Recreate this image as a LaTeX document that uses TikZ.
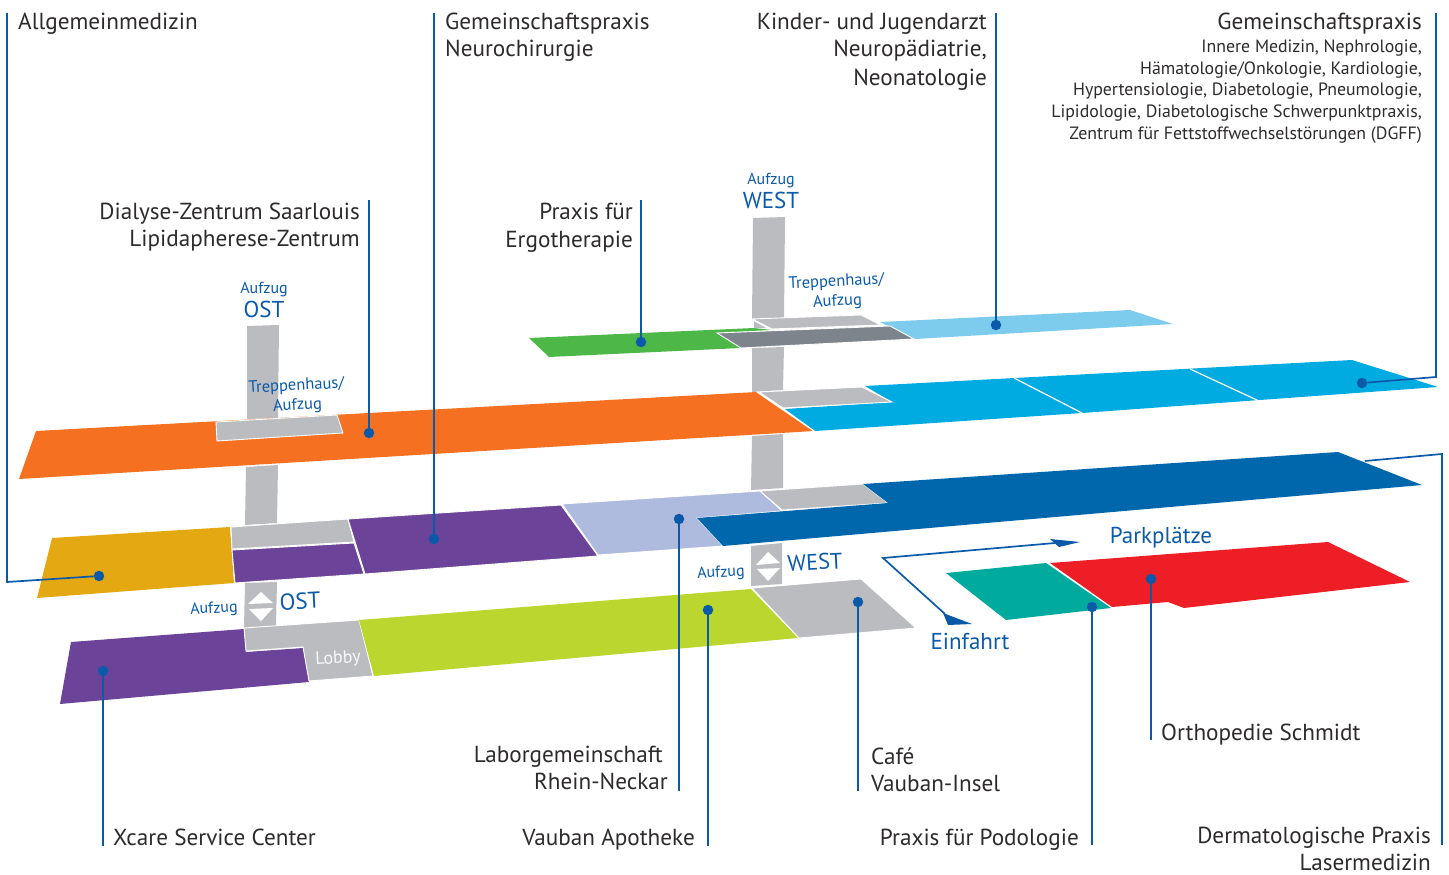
\documentclass[tikz,border=0pt]{standalone}
\usepackage{fontspec}
\setmainfont{PT Sans}
\usepackage{xcolor}
\definecolor{leader}{RGB}{11,90,170}
\definecolor{labeltext}{RGB}{45,42,43}
\definecolor{shaft}{RGB}{187,188,191}
\definecolor{orangefloor}{RGB}{245,112,33}
\definecolor{cyanfloor}{RGB}{0,171,226}
\definecolor{skyfloor}{RGB}{125,204,238}
\definecolor{greenfloor}{RGB}{77,184,72}
\definecolor{slatefloor}{RGB}{125,132,139}
\definecolor{yellowfloor}{RGB}{227,168,18}
\definecolor{purplefloor}{RGB}{107,67,153}
\definecolor{paleblue}{RGB}{174,186,222}
\definecolor{navyfloor}{RGB}{0,103,172}
\definecolor{limefloor}{RGB}{187,214,47}
\definecolor{tealfloor}{RGB}{0,171,157}
\definecolor{redfloor}{RGB}{238,30,38}
\tikzset{%
    room/.style={fill=#1,draw=white,line width=0.9pt,line join=miter},
    big/.style={font=\fontsize{23.2}{27}\selectfont,text=labeltext,align=#1,inner sep=0pt},
    small/.style={font=\fontsize{17.8}{21.8}\selectfont,text=labeltext,align=right,inner sep=0pt},
    blue/.style={font=\fontsize{#1}{#1}\selectfont,text=leader,align=center,inner sep=0pt},
    pin/.style={circle,fill=leader,inner sep=0pt,minimum size=10.5pt},
    lead/.style={draw=leader,line width=1.7pt}
}
\begin{document}
\begin{tikzpicture}[x=1pt,y=-1pt]
\useasboundingbox (0,0) rectangle (1449,875);
% lifts
\fill[shaft] (247,326) -- (279,325) -- (278,418) -- (247,419) -- cycle;
\fill[shaft] (246,467) -- (278,465) -- (277,523) -- (245,525) -- cycle;
\fill[shaft] (245,583) -- (277,582) -- (276,626) -- (244,628) -- cycle;
\fill[shaft] (753,218) -- (785,217) -- (784,319) -- (752,320) -- cycle;
\fill[shaft] (752,348) -- (784,347) -- (783,390) -- (752,392) -- cycle;
\fill[shaft] (752,436) -- (783,434) -- (783,488) -- (751,490) -- cycle;
\fill[shaft] (751,546) -- (782,543) -- (782,584) -- (751,586) -- cycle;
\fill[white] (261,592) -- (273,603) -- (248,604) -- cycle;
\fill[white] (249,609) -- (273,608) -- (261,621) -- cycle;
\fill[white] (768,552) -- (780,563) -- (756,565) -- cycle;
\fill[white] (757,569) -- (780,568) -- (768,581) -- cycle;
% top floor
\fill[greenfloor] (529,338) -- (549,357) -- (741,348) -- (717,333) -- (772,330) -- (754,328) -- cycle;
\fill[shaft] (754,321) -- (766,328) -- (754,328) -- cycle;
\fill[skyfloor] (880,322) -- (915,339) -- (1173,324) -- (1130,310) -- cycle;
\draw[room=shaft] (752,319) -- (772,329) -- (881,325) -- (861,315) -- cycle;
\draw[room=slatefloor] (717,333) -- (741,348) -- (914,339) -- (890,326) -- cycle;
% second floor
\fill[cyanfloor] (785,409) -- (815,431) -- (1082,413) -- (1438,387) -- (1352,360) -- (865,386) -- (892,402) -- cycle;
\draw[white,line width=1.2pt] (1014,378) -- (1082,413) (1190,369) -- (1259,401);
\draw[room=shaft] (759,392) -- (783,408) -- (892,402) -- (862,387) -- cycle;
\fill[orangefloor] (36,431) -- (19,479) -- (814,431) -- (757,392) -- cycle;
\draw[white,line width=1.2pt] (757,392) -- (814,431);
\draw[room=shaft] (216,422) -- (217,441) -- (343,433) -- (337,415) -- cycle;
% first floor
\fill[yellowfloor] (52,538) -- (37,598) -- (234,583) -- (230,527) -- cycle;
\draw[room=shaft] (231,527) -- (232,549) -- (354,542) -- (348,519) -- cycle;
\draw[room=purplefloor] (232,550) -- (235,583) -- (364,574) -- (354,543) -- cycle;
\draw[room=purplefloor] (348,519) -- (365,574) -- (598,556) -- (561,505) -- cycle;
\draw[room=paleblue] (562,504) -- (598,555) -- (723,546) -- (697,518) -- (782,511) -- (760,491) -- cycle;
\draw[room=shaft] (760,491) -- (782,510) -- (888,503) -- (863,484) -- cycle;
\fill[navyfloor] (697,518) -- (723,546) -- (1422,485) -- (1338,452) -- (863,484) -- (888,503) -- cycle;
% ground floor
\fill[purplefloor] (71,642) -- (60,704) -- (309,682) -- (303,648) -- (246,652) -- (244,629) -- cycle;
\draw[room=shaft] (244,628) -- (246,651) -- (303,647) -- (309,681) -- (373,676) -- (359,620) -- cycle;
\fill[limefloor] (359,620) -- (374,676) -- (798,638) -- (751,589) -- cycle;
\draw[room=shaft] (752,588) -- (799,638) -- (916,628) -- (861,579) -- cycle;
\fill[tealfloor] (946,573) -- (1006,620) -- (1111,608) -- (1046,563) -- cycle;
\fill[redfloor] (1050,563) -- (1112,607) -- (1168,602) -- (1184,608) -- (1410,582) -- (1328,542) -- cycle;
% pins
\node[pin] (allgemein) at (99,576) {};
\node[pin] (neuro) at (434,539) {};
\node[pin] (dialyse) at (369,433) {};
\node[pin] (ergo) at (641,342) {};
\node[pin] (kinder) at (996,325) {};
\node[pin] (innere) at (1362,383) {};
\node[pin] (xcare) at (103,671) {};
\node[pin] (labor) at (679,519) {};
\node[pin] (apotheke) at (708,610) {};
\node[pin] (cafe) at (858,602) {};
\node[pin] (podologie) at (1092,607) {};
\node[pin] (ortho) at (1151,579) {};
% leader ends
\coordinate (allgemeintop) at (7,13);
\coordinate (allgemeinbend) at (7,582);
\coordinate (neurotop) at (434,13);
\coordinate (dialysetop) at (369,200);
\coordinate (ergotop) at (641,200);
\coordinate (kindertop) at (996,13);
\coordinate (inneretop) at (1436,13);
\coordinate (innerebend) at (1436,377);
\coordinate (dermaend) at (1365,461);
\coordinate (dermabend) at (1442,454);
\coordinate (dermabottom) at (1442,845);
\coordinate (xcareend) at (103,846);
\coordinate (laborend) at (679,791);
\coordinate (apothekeend) at (708,846);
\coordinate (cafeend) at (858,791);
\coordinate (podologieend) at (1092,845);
\coordinate (orthoend) at (1151,740);
\draw[lead] (allgemeintop) -- (allgemeinbend) -- (allgemein);
\draw[lead] (neurotop) -- (neuro);
\draw[lead] (dialysetop) -- (dialyse);
\draw[lead] (ergotop) -- (ergo);
\draw[lead] (kindertop) -- (kinder);
\draw[lead] (inneretop) -- (innerebend) -- (innere);
\draw[lead] (dermaend) -- (dermabend) -- (dermabottom);
\draw[lead] (xcare) -- (xcareend);
\draw[lead] (labor) -- (laborend);
\draw[lead] (apotheke) -- (apothekeend);
\draw[lead] (cafe) -- (cafeend);
\draw[lead] (podologie) -- (podologieend);
\draw[lead] (ortho) -- (orthoend);
% drive
\coordinate (einfahrtend) at (945,614);
\coordinate (driveturn) at (883,558);
\coordinate (parkend) at (1055,543);
\draw[lead] (einfahrtend) -- (driveturn) -- (parkend);
\fill[leader] (943,613) -- (948,625) -- (972,624) -- cycle;
\fill[leader] (1050,539) -- (1059,547) -- (1080,542) -- cycle;
% labels
\node[big=left,anchor=north west] (lallgemein) at (18,13) {Allgemeinmedizin};
\node[big=left,anchor=north west] (lneuro) at (445,13) {Gemeinschaftspraxis\\Neurochirurgie};
\node[big=right,anchor=north east] (lkinder) at (987,13) {Kinder- und Jugendarzt\\Neuropädiatrie,\\[1.5pt]Neonatologie};
\node[big=right,anchor=north east] (linnere) at (1422,13) {Gemeinschaftspraxis};
\node[small,anchor=north east] (linneresub) at (1422,39.5) {Innere Medizin, Nephrologie,\\Hämatologie/Onkologie, Kardiologie,\\Hypertensiologie, Diabetologie, Pneumologie,\\Lipidologie, Diabetologische Schwerpunktpraxis,\\Zentrum für Fettstoffwechselstörungen (DGFF)};
\node[big=right,anchor=north east] (ldialyse) at (360,203) {Dialyse-Zentrum Saarlouis\\Lipidapherese-Zentrum};
\node[big=right,anchor=north east] (lergo) at (633,203) {Praxis für\\[1pt]Ergotherapie};
\node[big=right,anchor=north east] (llabor) at (668,746) {Laborgemeinschaft\hspace*{5pt}\\Rhein-Neckar};
\node[big=left,anchor=north west] (lcafe) at (871,748) {Café\\Vauban-Insel};
\node[big=left,anchor=north west] (lortho) at (1161,724) {Orthopedie Schmidt};
\node[big=left,anchor=north west] (lxcare) at (113,829) {Xcare Service Center};
\node[big=right,anchor=north east] (lapotheke) at (695,829) {Vauban Apotheke};
\node[big=right,anchor=north east] (lpodologie) at (1079,829) {Praxis für Podologie};
\node[big=right,anchor=north east] (lderma) at (1431,827) {Dermatologische Praxis\\Lasermedizin};
% blue labels
\node[blue=16] (aufzugost) at (264,290) {Aufzug};
\node[blue=23] (ostup) at (264,309) {OST};
\node[blue=16] (aufzugwest) at (771,181) {Aufzug};
\node[blue=23] (westup) at (771,200) {WEST};
\node[blue=16.5,rotate=3] (treppeost) at (297,396) {Treppenhaus/\\[3pt]Aufzug};
\node[blue=16.5,rotate=3] (treppewest) at (837,292) {Treppenhaus/\\[3pt]Aufzug};
\node[blue=16,rotate=3] (aufzugostlow) at (214,609) {Aufzug};
\node[blue=23,rotate=3] (ostlow) at (300,601) {OST};
\node[blue=16,rotate=3] (aufzugwestlow) at (721,573) {Aufzug};
\node[blue=22.5,rotate=3] (westlow) at (815,562) {WEST};
\node[blue=23] (parkplatze) at (1161,538) {Parkplätze};
\node[blue=23] (einfahrt) at (970,641) {Einfahrt};
\node[blue=18,rotate=3,text=white!90!shaft] (lobby) at (338,659) {Lobby};
\end{tikzpicture}
\end{document}
